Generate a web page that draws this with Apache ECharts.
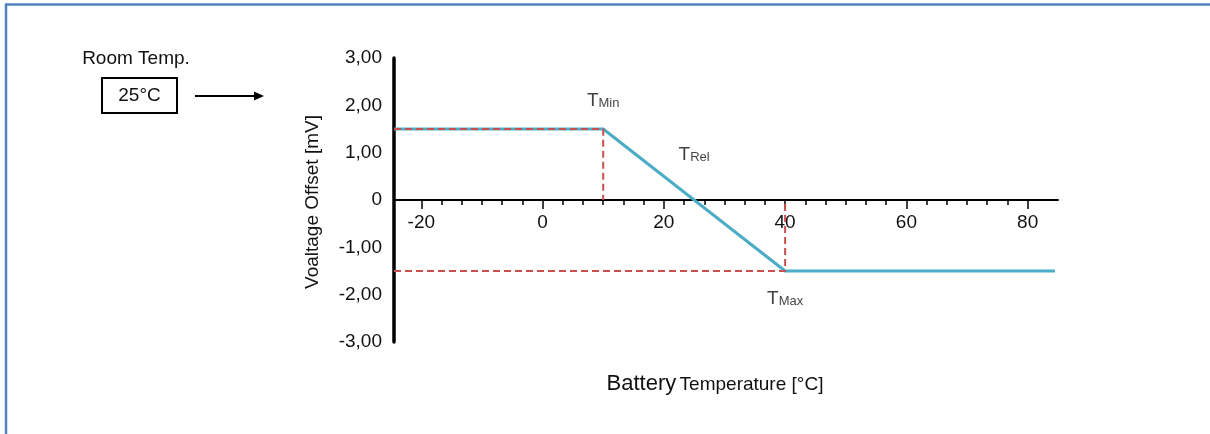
<!DOCTYPE html>
<html>
<head>
<meta charset="utf-8">
<script src="https://cdn.jsdelivr.net/npm/echarts@6/dist/echarts.min.js"></script>
<style>
  html, body { margin: 0; padding: 0; background: #fff; }
  #chart { width: 1210px; height: 434px; }
</style>
</head>
<body>
<div id="chart"></div>
<script>
// Voltage offset vs. battery temperature (compensation curve)
const xRange = [-24.5, 85];
const yRange = [-3, 3];

const xMajorTicks = [-20, 0, 20, 40, 60, 80];
const xMinorTicks = [-16.67, -13.33, -10, -6.67, -3.33, 3.33, 6.67, 10, 13.33, 16.67,
  23.33, 26.67, 30, 33.33, 36.67, 43.33, 46.67, 50, 53.33, 56.67,
  63.33, 66.67, 70, 73.33, 76.67];

const yTickValues = [-3, -2, -1, 0, 1, 2, 3];
const yTickLabels = ['-3,00', '-2,00', '-1,00', '0', '1,00', '2,00', '3,00'];

// offset curve: flat above T_Min, linear ramp to T_Max, flat beyond
const offsetCurve = [[-24.5, 1.5], [10, 1.5], [40, -1.5], [84.5, -1.5]];

// dashed guides to T_Min and T_Max
const guideMin = [[-24.5, 1.5], [10, 1.5], [10, 0]];
const guideMax = [[-24.5, -1.5], [40, -1.5], [40, 0]];

// anchor points for the temperature labels
const markerPoints = [[10, 1.5], [25, 0], [40, -1.5]];
const markerNames = ['Min', 'Rel', 'Max'];

const FONT = '"Liberation Sans", Arial, sans-serif';
const TXT = '#111111';

const markerLabelStyle = [
  { position: 'top', distance: 19 },
  { position: 'top', distance: 36 },
  { position: 'bottom', distance: 16 }
];

// plot area; the temperature axis sits on a second grid whose lower edge is the zero line
const PLOT = { left: 394, right: 152, top: 58, bottom: 92 };
const ZERO_Y = 200;

const chart = echarts.init(document.getElementById('chart'), null, { renderer: 'canvas' });

chart.setOption({
  backgroundColor: '#ffffff',
  animation: false,
  textStyle: { fontFamily: FONT },
  grid: [
    { left: PLOT.left, right: PLOT.right, top: PLOT.top, bottom: PLOT.bottom },
    { left: PLOT.left, right: PLOT.right, top: PLOT.top, bottom: 434 - ZERO_Y }
  ],
  xAxis: [
    {
      gridIndex: 0, type: 'value', min: xRange[0], max: xRange[1], show: false
    },
    {
      gridIndex: 1, type: 'value', position: 'bottom',
      min: xRange[0], max: xRange[1],
      axisLine: { onZero: false, lineStyle: { color: '#000', width: 2 } },
      axisTick: { show: true, inside: false, length: 9, customValues: xMajorTicks,
        lineStyle: { color: '#000', width: 1.5 } },
      axisLabel: { customValues: xMajorTicks, margin: 13, fontSize: 19, color: TXT, fontFamily: FONT },
      splitLine: { show: false }
    },
    {
      gridIndex: 1, type: 'value', position: 'bottom',
      min: xRange[0], max: xRange[1],
      axisLine: { show: false, onZero: false },
      axisTick: { show: true, inside: false, length: 5, customValues: xMinorTicks,
        lineStyle: { color: '#000', width: 1.5 } },
      axisLabel: { show: false },
      splitLine: { show: false }
    }
  ],
  yAxis: [
    {
      gridIndex: 0, type: 'value', min: yRange[0], max: yRange[1], interval: 1,
      axisLine: { show: true, onZero: false, lineStyle: { color: '#000', width: 3.5 } },
      axisTick: { show: false },
      splitLine: { show: false },
      axisLabel: {
        margin: 12, fontSize: 19, color: TXT, fontFamily: FONT,
        formatter: function (v) {
          const i = yTickValues.indexOf(Math.round(v));
          return i >= 0 ? yTickLabels[i] : '';
        }
      }
    },
    {
      gridIndex: 1, type: 'value', min: 0, max: yRange[1], show: false
    }
  ],
  series: [
    {
      name: 'Offset', type: 'line', xAxisIndex: 0, yAxisIndex: 0,
      data: offsetCurve, symbol: 'none', z: 3,
      lineStyle: { color: '#4bacc6', width: 3 }
    },
    {
      name: 'Guide T_Min', type: 'line', xAxisIndex: 0, yAxisIndex: 0,
      data: guideMin, symbol: 'none', z: 4,
      lineStyle: { color: '#c9504f', width: 2, type: [7, 4] }
    },
    {
      name: 'Guide T_Max', type: 'line', xAxisIndex: 0, yAxisIndex: 0,
      data: guideMax, symbol: 'none', z: 4,
      lineStyle: { color: '#c9504f', width: 2, type: [7, 4] }
    },
    {
      name: 'Markers', type: 'scatter', xAxisIndex: 0, yAxisIndex: 0,
      symbolSize: 0, z: 5,
      data: markerPoints.map(function (p, i) {
        return {
          value: p,
          label: Object.assign({
            show: true,
            formatter: '{t|T}{s|' + markerNames[i] + '}',
            rich: {
              t: { fontSize: 19, color: TXT, fontFamily: FONT, lineHeight: 21, verticalAlign: 'bottom' },
              s: { fontSize: 13, color: TXT, fontFamily: FONT, lineHeight: 10, verticalAlign: 'bottom' }
            }
          }, markerLabelStyle[i])
        };
      })
    }
  ],
  graphic: [
    // frame
    { type: 'rect', silent: true, z: 100,
      shape: { x: 6, y: 4.5, width: 1400, height: 800 },
      style: { fill: null, stroke: '#5282be', lineWidth: 2.5 } },
    // room temperature box and arrow
    { type: 'text', x: 136, y: 59, z: 10,
      style: { text: 'Room Temp.', font: '19px ' + FONT, fill: TXT, align: 'center', verticalAlign: 'middle' } },
    { type: 'rect', z: 10,
      shape: { x: 102, y: 78, width: 75, height: 35 },
      style: { fill: '#fff', stroke: '#000', lineWidth: 2 } },
    { type: 'text', z: 11, x: 139.5, y: 96,
      style: { text: '25°C', font: '19px ' + FONT, fill: TXT, align: 'center', verticalAlign: 'middle' } },
    { type: 'line', z: 10,
      shape: { x1: 195, y1: 96, x2: 256, y2: 96 },
      style: { stroke: '#000', lineWidth: 2 } },
    { type: 'polygon', z: 10,
      shape: { points: [[254, 91.5], [264, 96], [254, 100.5]] },
      style: { fill: '#000' } },
    // axis titles
    { type: 'text', z: 10, x: 313, y: 202, rotation: Math.PI / 2,
      style: { text: 'Voaltage Offset [mV]', font: '19px ' + FONT, fill: TXT,
        align: 'center', verticalAlign: 'middle' } },
    { type: 'text', z: 10, x: 715, y: 382,
      style: {
        text: '{a|Battery} {b|Temperature [°C]}',
        align: 'center', verticalAlign: 'middle',
        rich: {
          a: { fontSize: 22, fontFamily: FONT, fill: TXT, verticalAlign: 'bottom', lineHeight: 25 },
          b: { fontSize: 19, fontFamily: FONT, fill: TXT, verticalAlign: 'bottom', lineHeight: 23 }
        }
      } }
  ]
});
</script>
</body>
</html>
